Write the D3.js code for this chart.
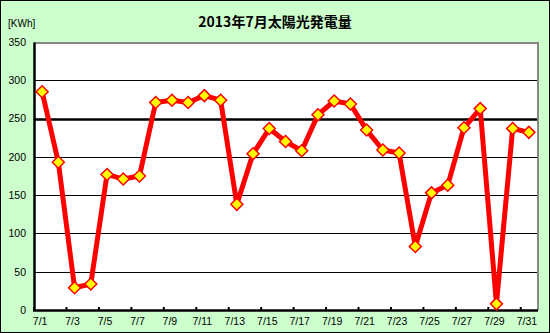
<!DOCTYPE html>
<html lang="ja">
<head>
<meta charset="UTF-8">
<title>2013年7月太陽光発電量</title>
<style>
  body { margin: 0; }
  svg { display: block; }
</style>
</head>
<body>
<script src="https://d3js.org/d3.v7.min.js"></script>
<script>
    var days = ['7/1','7/2','7/3','7/4','7/5','7/6','7/7','7/8','7/9','7/10',
                '7/11','7/12','7/13','7/14','7/15','7/16','7/17','7/18','7/19','7/20',
                '7/21','7/22','7/23','7/24','7/25','7/26','7/27','7/28','7/29','7/30','7/31'];
    var kwh = [285, 193, 29, 34, 177, 171, 175, 271, 274, 271,
               280, 274, 138, 204, 237, 220, 208, 255, 273, 269,
               235, 209, 205, 83, 153, 163, 238, 263, 8, 237, 232];
    var yTicks = [0, 50, 100, 150, 200, 250, 300, 350];
    var xLabels = days.filter(function(d, i) { return i % 2 === 0; });

    var width = 550, height = 333,
        plotL = 34, plotR = 537, plotT = 42, plotB = 310;

    var svg = d3.select('body').append('svg')
                .attr('width', width)
                .attr('height', height)
                .style('font-family', '"Liberation Sans", Arial, sans-serif');

    svg.append('rect')
       .attr('x', 0.5).attr('y', 0.5)
       .attr('width', width - 1).attr('height', height - 1)
       .attr('fill', '#ccffcc')
       .attr('stroke', '#000');

    svg.append('rect')
       .attr('x', plotL).attr('y', plotT)
       .attr('width', plotR - plotL).attr('height', plotB - plotT)
       .attr('fill', '#fff');

    var x = d3.scaleBand().domain(days).range([plotL, plotR]);
    var y = d3.scaleLinear().domain([0, 350]).range([plotB, plotT]);

    // grid lines
    svg.append('g').selectAll('line')
       .data(yTicks.filter(function(t) { return t > 0 && t < 350; }))
       .enter().append('line')
       .attr('x1', plotL).attr('x2', plotR)
       .attr('y1', function(d) { return Math.round(y(d)) + 0.5; })
       .attr('y2', function(d) { return Math.round(y(d)) + 0.5; })
       .attr('stroke', '#000')
       .attr('stroke-width', function(d) { return d === 250 ? 2.5 : 1; });

    // top and right frame (grey)
    svg.append('path')
       .attr('d', 'M' + plotL + ',' + (plotT + 1) + 'H' + (plotR + 1) + 'V' + plotB)
       .attr('fill', 'none')
       .attr('stroke', '#888')
       .attr('stroke-width', 2);

    // y axis
    var yAxis = d3.axisLeft(y).tickValues(yTicks).tickSize(0).tickPadding(8);
    var gy = svg.append('g')
       .attr('transform', 'translate(' + plotL + ',0)')
       .call(yAxis);
    gy.select('.domain').attr('stroke', '#000').attr('stroke-width', 2.5);
    gy.selectAll('text').attr('font-size', 10.5).attr('fill', '#000')
      .style('font-family', '"Liberation Sans", Arial, sans-serif');

    // x axis
    var xTickScale = d3.scaleLinear().domain([0, days.length]).range([plotL, plotR]);
    var tickPos = d3.range(0, days.length + 1, 2);
    svg.append('g').selectAll('line')
       .data(tickPos)
       .enter().append('line')
       .attr('x1', function(d) { return xTickScale(d); })
       .attr('x2', function(d) { return xTickScale(d); })
       .attr('y1', plotB).attr('y2', plotB - 3)
       .attr('stroke', '#000')
       .attr('stroke-width', 2);

    svg.append('line')
       .attr('x1', plotL - 1).attr('x2', plotR + 1)
       .attr('y1', plotB + 0.5).attr('y2', plotB + 0.5)
       .attr('stroke', '#000')
       .attr('stroke-width', 2.5);

    svg.append('g').selectAll('text')
       .data(xLabels)
       .enter().append('text')
       .attr('x', function(d) { return x(d) + x.bandwidth() / 2 - 2; })
       .attr('y', 325)
       .attr('text-anchor', 'middle')
       .attr('font-size', 10.5)
       .text(function(d) { return d; });

    // series line
    var line = d3.line()
        .x(function(d, i) { return x(days[i]) + x.bandwidth() / 2; })
        .y(function(d) { return y(d); });

    svg.append('path')
       .datum(kwh)
       .attr('d', line)
       .attr('fill', 'none')
       .attr('stroke', '#ff0000')
       .attr('stroke-width', 5)
       .attr('stroke-linejoin', 'round');

    // diamond markers
    svg.append('g').selectAll('path')
       .data(kwh)
       .enter().append('path')
       .attr('transform', function(d, i) {
           return 'translate(' + (x(days[i]) + x.bandwidth() / 2) + ',' + y(d) + ')';
       })
       .attr('d', 'M0,-6L6,0L0,6L-6,0Z')
       .attr('fill', '#ffff00')
       .attr('stroke', '#ff0000')
       .attr('stroke-width', 1.5);

    // title and unit
    svg.append('text')
       .attr('x', 275).attr('y', 27)
       .attr('text-anchor', 'middle')
       .attr('font-size', 14)
       .attr('font-weight', 'bold')
       .style('font-family', '"Noto Sans CJK JP", sans-serif')
       .text('2013年7月太陽光発電量');

    svg.append('text')
       .attr('x', 8).attr('y', 27)
       .attr('font-size', 10)
       .text('[KWh]');
</script>
</body>
</html>
